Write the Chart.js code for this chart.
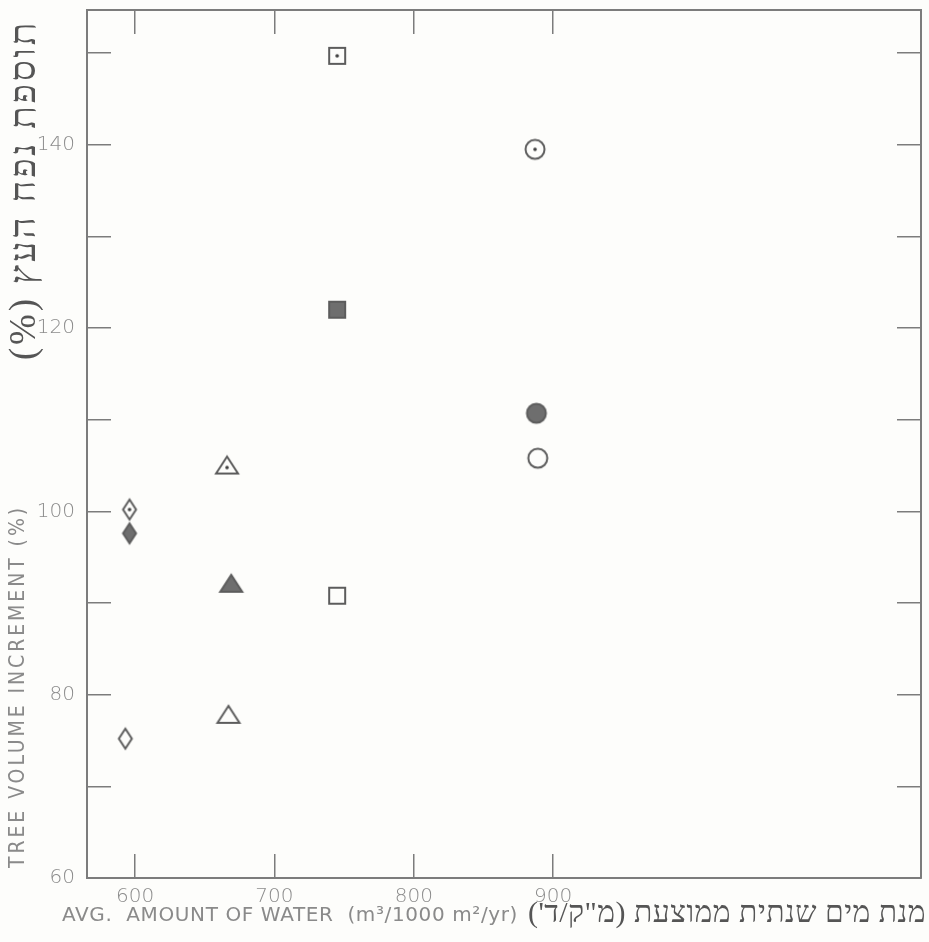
<!DOCTYPE html>
<html lang="he">
<head>
  <meta charset="UTF-8">
  <title>Tree volume increment vs. water amount</title>
  <script src="https://cdn.jsdelivr.net/npm/chart.js"></script>
  <style>
    html, body {
      margin: 0;
      padding: 0;
      background-color: #fdfdfb;
    }
    #wrap {
      width: 929px;
      height: 942px;
    }
  </style>
</head>
<body>

  <div id="wrap"><canvas id="waterChart" width="929" height="942"></canvas></div>

  <script>
    // marker shapes, one per treatment group (left to right in the figure)
    const markerShapes = ['diamond', 'triangle', 'square', 'circle'];

    // open markers with a centre dot
    const waterDotted  = [596, 666, 745, 887];
    const volumeDotted = [100.2, 105.0, 149.7, 139.5];

    // solid grey markers
    const waterFilled  = [596, 669, 745, 888];
    const volumeFilled = [97.6, 92.1, 122.0, 110.7];

    // plain open markers
    const waterOpen  = [593, 667, 745, 889];
    const volumeOpen = [75.2, 77.8, 90.8, 105.8];

    // axis ticks
    const xTicks = [600, 700, 800, 900];
    const yTicks = [60, 70, 80, 90, 100, 110, 120, 130, 140, 150];
    const yLabelled = [60, 80, 100, 120, 140];

    const lineGrey = '#7c7c7c';
    const inkGrey = '#5c5c5c';

    // draw a marker into a small canvas so chart.js can use it as pointStyle
    function makeMarker(shape, kind) {
      const c = document.createElement('canvas');
      c.width = 28;
      c.height = 28;
      const g = c.getContext('2d');
      const cx = 14, cy = 14;
      g.lineWidth = 2;
      g.strokeStyle = inkGrey;
      g.fillStyle = kind === 'filled' ? '#6e6e6e' : '#fdfdfb';
      g.beginPath();
      if (shape === 'diamond') {
        g.moveTo(cx, cy - 10);
        g.lineTo(cx + 6.5, cy);
        g.lineTo(cx, cy + 10);
        g.lineTo(cx - 6.5, cy);
      } else if (shape === 'triangle') {
        g.moveTo(cx, cy - 9);
        g.lineTo(cx + 11, cy + 8);
        g.lineTo(cx - 11, cy + 8);
      } else if (shape === 'square') {
        g.rect(cx - 8, cy - 8, 16, 16);
      } else {
        g.arc(cx, cy, 9.5, 0, Math.PI * 2);
      }
      g.closePath();
      g.fill();
      g.stroke();
      if (kind === 'dotted') {
        g.fillStyle = '#3e3e3e';
        g.beginPath();
        g.arc(cx, shape === 'triangle' ? cy + 2 : cy, 1.8, 0, Math.PI * 2);
        g.fill();
      }
      return c;
    }

    function toPoints(xs, ys) {
      return xs.map((x, i) => ({ x: x, y: ys[i] }));
    }

    function makeDataset(label, xs, ys, kind) {
      return {
        label: label,
        data: toPoints(xs, ys),
        pointStyle: markerShapes.map(s => makeMarker(s, kind)),
        pointRadius: 12,
        pointHoverRadius: 12
      };
    }

    // spread the letters so the text fills the given length
    function fillSpread(ctx, text, x, y, length) {
      ctx.letterSpacing = '0px';
      const w = ctx.measureText(text).width;
      const n = [...text].length;
      ctx.letterSpacing = ((length - w) / n).toFixed(2) + 'px';
      ctx.fillText(text, x, y);
      ctx.letterSpacing = '0px';
    }

    // titles drawn beside the axes (english + hebrew)
    const axisTitles = {
      id: 'axisTitles',
      afterDraw(chart) {
        const ctx = chart.ctx;
        ctx.save();

        // x title, english
        ctx.fillStyle = '#8a8a8a';
        ctx.textBaseline = 'middle';
        ctx.textAlign = 'left';
        ctx.font = "20px 'DejaVu Sans', sans-serif";
        fillSpread(ctx, 'AVG.  AMOUNT OF WATER  (m\u00b3/1000 m\u00b2/yr)', 62, 916, 456);

        // x title, hebrew
        ctx.fillStyle = '#555';
        ctx.direction = 'rtl';
        ctx.textAlign = 'right';
        ctx.font = "30px 'Liberation Serif', 'DejaVu Serif', serif";
        fillSpread(ctx, 'מנת מים שנתית ממוצעת (מ"ק/ד\')', 926, 914, 398);

        // y title, english (rotated, reads bottom to top)
        ctx.save();
        ctx.translate(19, 868);
        ctx.rotate(-Math.PI / 2);
        ctx.direction = 'ltr';
        ctx.textAlign = 'left';
        ctx.fillStyle = '#8a8a8a';
        ctx.font = "21px 'DejaVu Sans Condensed', 'DejaVu Sans', sans-serif";
        fillSpread(ctx, 'TREE VOLUME INCREMENT (%)', 0, 0, 363);
        ctx.restore();

        // y title, hebrew (rotated)
        ctx.save();
        ctx.translate(25, 20);
        ctx.rotate(-Math.PI / 2);
        ctx.direction = 'rtl';
        ctx.textAlign = 'right';
        ctx.fillStyle = '#555';
        ctx.font = "37px 'Liberation Serif', 'DejaVu Serif', serif";
        fillSpread(ctx, 'תוספת נפח העץ (%)', 0, 0, 340);
        ctx.restore();

        ctx.restore();
      }
    };

    const tickFont = { family: "'DejaVu Sans', sans-serif", size: 20, weight: '300' };

    function frameScale(position, ticks, size, showLabels) {
      const horizontal = position === 'top' || position === 'bottom';
      return {
        type: 'linear',
        position: position,
        min: horizontal ? 565.5 : 60,
        max: horizontal ? 1164 : 154.7,
        afterBuildTicks: s => { s.ticks = ticks.map(v => ({ value: v })); },
        afterFit: s => {
          if (horizontal) s.height = size; else s.width = size;
          s.paddingTop = 0;
          s.paddingBottom = 0;
          s.paddingLeft = 0;
          s.paddingRight = 0;
        },
        grid: {
          drawOnChartArea: false,
          drawTicks: true,
          tickLength: -24,
          color: lineGrey,
          lineWidth: 1.5
        },
        border: { display: true, color: lineGrey, width: 2 },
        ticks: {
          display: showLabels,
          autoSkip: false,
          maxRotation: 0,
          padding: horizontal ? 31 : 36,
          color: '#8c8c8c',
          font: tickFont,
          callback: v => (horizontal || yLabelled.includes(v)) ? String(v) : ''
        }
      };
    }

    const ctx = document.getElementById('waterChart').getContext('2d');

    new Chart(ctx, {
      type: 'scatter',
      data: {
        datasets: [
          makeDataset('dotted', waterDotted, volumeDotted, 'dotted'),
          makeDataset('filled', waterFilled, volumeFilled, 'filled'),
          makeDataset('open', waterOpen, volumeOpen, 'open')
        ]
      },
      options: {
        responsive: false,
        animation: false,
        layout: { padding: 0, autoPadding: false },
        plugins: {
          legend: { display: false },
          tooltip: { enabled: false }
        },
        scales: {
          x: frameScale('bottom', xTicks, 64, true),
          x2: frameScale('top', xTicks, 10, false),
          y: frameScale('left', yTicks, 87, true),
          y2: frameScale('right', yTicks, 8, false)
        }
      },
      plugins: [axisTitles]
    });
  </script>

</body>
</html>
